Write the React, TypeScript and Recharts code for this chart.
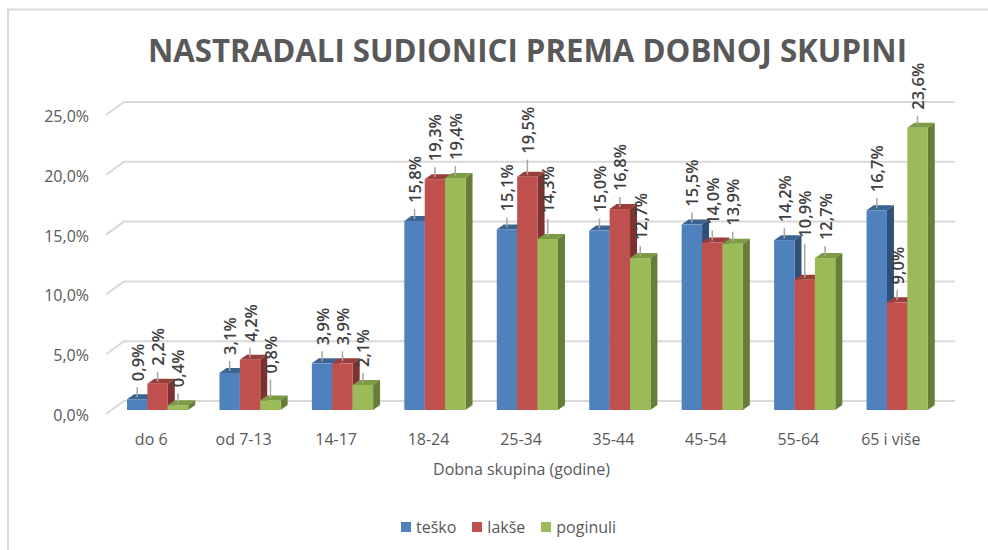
import { BarChart, Bar, XAxis, YAxis, CartesianGrid, LabelList, Legend } from 'recharts';

const categories = ['do 6', 'od 7-13', '14-17', '18-24', '25-34', '35-44', '45-54', '55-64', '65 i više'];
const tesko = [0.9, 3.1, 3.9, 15.8, 15.1, 15.0, 15.5, 14.2, 16.7];
const lakse = [2.2, 4.2, 3.9, 19.3, 19.5, 16.8, 14.0, 10.9, 9.0];
const poginuli = [0.4, 0.8, 2.1, 19.4, 14.3, 12.7, 13.9, 12.7, 23.6];
const yTicks = [0, 5, 10, 15, 20, 25];

const data = categories.map((name, i) => ({
  name,
  tesko: tesko[i],
  lakse: lakse[i],
  poginuli: poginuli[i],
}));

const SERIES = [
  { key: 'tesko', name: 'teško', front: '#4f81bd', top: '#3c6493', side: '#2f5078' },
  { key: 'lakse', name: 'lakše', front: '#c0504d', top: '#9a3e3b', side: '#7e3230' },
  { key: 'poginuli', name: 'poginuli', front: '#9bbb59', top: '#7d9a45', side: '#667e37' },
];

// excel nudged a few labels further up to avoid collisions
const labelLift: Record<string, number> = { 'lakse-7': 24, 'poginuli-1': 9, 'lakse-4': 5, 'poginuli-4': 8 };

const FONT = '"Open Sans", "Noto Sans", sans-serif';
const GRAY = '#595959';
const DX = 7;
const DY = 5;
const PLOT_BOTTOM = 410;

const fmt = (v: number) => `${v.toFixed(1).replace('.', ',')}%`;

function Box3D(props: any) {
  const { x, y, width: w, height: h, front, top, side } = props;
  if (!h || h <= 0) return null;
  return (
    <g>
      <polygon points={`${x},${y} ${x + DX},${y - DY} ${x + w + DX},${y - DY} ${x + w},${y}`} fill={top} />
      <polygon points={`${x + w},${y} ${x + w + DX},${y - DY} ${x + w + DX},${y + h - DY} ${x + w},${y + h}`} fill={side} />
      <rect x={x} y={y} width={w} height={h} fill={front} />
    </g>
  );
}

function makeLabel(key: string) {
  return (p: any) => {
    const x = Number(p.x);
    const y = Number(p.y);
    const cx = x + Number(p.width) / 2;
    const base = y - 18 - (labelLift[`${key}-${p.index}`] ?? 0);
    return (
      <g key={`${key}-${p.index}`}>
        <line x1={cx} y1={y - 2} x2={cx} y2={base + 6} stroke="#a6a6a6" strokeWidth={1.5} />
        <text
          x={cx}
          y={base}
          transform={`rotate(-90 ${cx} ${base})`}
          textAnchor="start"
          dominantBaseline="central"
          fontFamily={FONT}
          fontSize={16.5}
          fontWeight={600}
          fill="#404040"
        >
          {fmt(Number(p.value))}
        </text>
      </g>
    );
  };
}

const YTick = (p: any) => (
  <text x={89} y={p.y + 5} textAnchor="end" dominantBaseline="central" fontFamily={FONT} fontSize={16} fill={GRAY}>
    {fmt(Number(p.payload.value))}
  </text>
);

const XTick = (p: any) => (
  <text x={p.x - 6} y={PLOT_BOTTOM + 35} textAnchor="middle" fontFamily={FONT} fontSize={16} fill={GRAY}>
    {p.payload.value}
  </text>
);

const gridLine = (p: any) => (
  <path
    key={`grid-${p.y1}`}
    d={`M${p.x1 - 5},${p.y1 + 4} L${p.x1 + 13},${p.y1 - 9} L${p.x2 + 12},${p.y1 - 9}`}
    stroke="#d9d9d9"
    strokeWidth={2}
    fill="none"
  />
);

const LegendBox = () => (
  <div style={{ display: 'flex', gap: 16, fontFamily: FONT, fontSize: 16, color: GRAY, lineHeight: '20px' }}>
    {SERIES.map((s) => (
      <div key={s.key} style={{ display: 'flex', alignItems: 'center' }}>
        <span style={{ width: 10, height: 10, background: s.front, marginRight: 5, display: 'inline-block' }} />
        {s.name}
      </div>
    ))}
  </div>
);

export default function App() {
  return (
    <div style={{ position: 'fixed', top: 0, left: 0, width: 988, height: 550, overflow: 'hidden', background: '#fff' }}>
      <svg width={988} height={550} style={{ position: 'absolute', top: 0, left: 0 }}>
        <path d="M8,550 L8,9.5 L988,9.5" stroke="#d9d9d9" strokeWidth={2} fill="none" />
        <text
          x={527.5}
          y={62}
          textAnchor="middle"
          fontFamily={FONT}
          fontSize={33}
          fontWeight={700}
          fill={GRAY}
          textLength={759}
          lengthAdjust="spacingAndGlyphs"
        >
          NASTRADALI SUDIONICI PREMA DOBNOJ SKUPINI
        </text>
        <text x={521.5} y={475} textAnchor="middle" fontFamily={FONT} fontSize={16} fill={GRAY}>
          Dobna skupina (godine)
        </text>
      </svg>
      <div style={{ position: 'absolute', top: 0, left: 0 }}>
        <BarChart
          width={988}
          height={550}
          data={data}
          margin={{ top: 111, right: 45, bottom: 110, left: 51 }}
          barGap={0}
          barSize={20.4}
        >
          <CartesianGrid vertical={false} horizontal={gridLine} />
          <XAxis dataKey="name" height={30} axisLine={false} tickLine={false} interval={0} tick={XTick} />
          <YAxis width={60} domain={[0, 25]} ticks={yTicks} axisLine={false} tickLine={false} interval={0} tick={YTick} />
          {SERIES.map((s) => (
            <Bar
              key={s.key}
              dataKey={s.key}
              name={s.name}
              fill={s.front}
              isAnimationActive={false}
              shape={(p: any) => <Box3D {...p} front={s.front} top={s.top} side={s.side} />}
            >
              <LabelList dataKey={s.key} content={makeLabel(s.key)} />
            </Bar>
          ))}
          <Legend
            verticalAlign="middle"
            align="center"
            layout="horizontal"
            wrapperStyle={{ top: 517, left: 401, width: 320, height: 20 }}
            content={LegendBox}
          />
        </BarChart>
      </div>
    </div>
  );
}
